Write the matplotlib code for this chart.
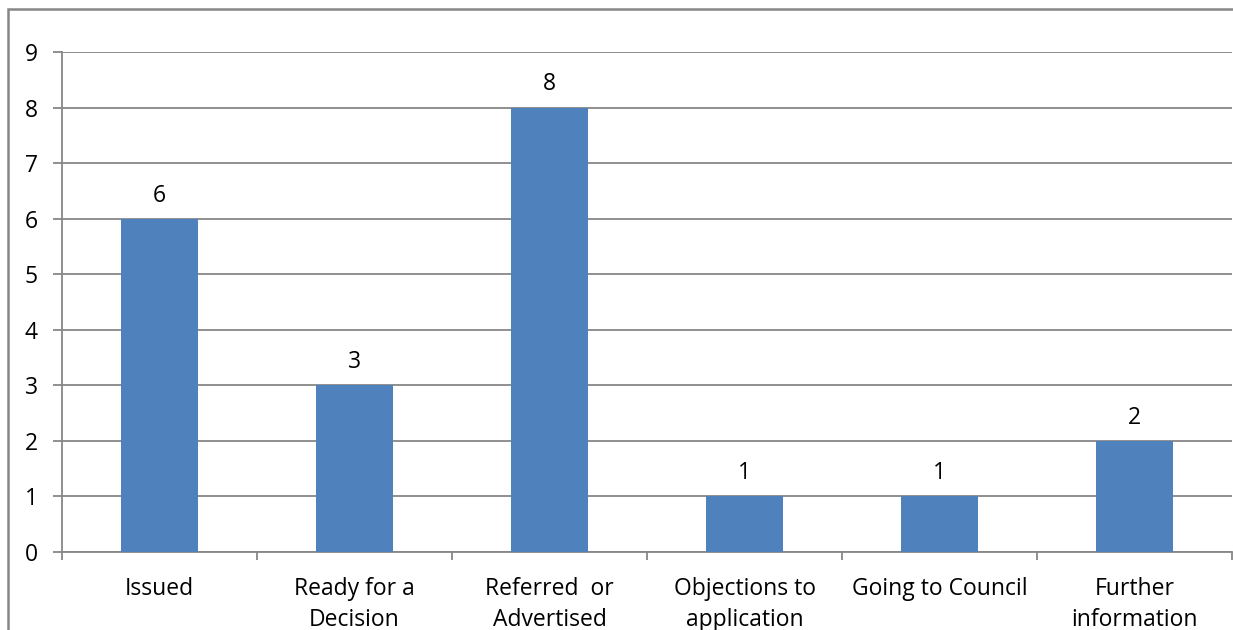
import matplotlib.pyplot as plt
from matplotlib.patches import Rectangle

categories = ['Issued', 'Ready for a\nDecision', 'Referred  or\nAdvertised',
              'Objections to\napplication', 'Going to Council', 'Further\ninformation']
counts = [6, 3, 8, 1, 1, 2]
yticks = list(range(0, 10))

plt.rcParams['font.family'] = ['Open Sans', 'DejaVu Sans']

fig = plt.figure(figsize=(12.33, 6.3), dpi=100)
ax = fig.add_axes([62 / 1233, 1 - 552 / 630, 1170 / 1233, 500 / 630])

grey = '#878787'
fs = 16.5
x = list(range(len(categories)))
bars = ax.bar(x, counts, width=0.395, color='#4F81BD', zorder=3)
for b, v in zip(bars, counts):
    ax.annotate(str(v), (b.get_x() + b.get_width() / 2, v), xytext=(0, 8),
                textcoords='offset points', ha='center', va='bottom', fontsize=fs)

ax.set_xlim(-0.5, len(categories) - 0.5)
ax.set_ylim(0, 9)
ax.set_yticks(yticks)
ax.yaxis.grid(True, color=grey, linewidth=1.3, zorder=0)

# ticks on category boundaries, labels centred
ax.set_xticks([i - 0.5 for i in range(len(categories) + 1)])
ax.set_xticklabels([])
ax.set_xticks(x, minor=True)
ax.set_xticklabels(categories, minor=True, fontsize=fs, linespacing=1.4)
ax.tick_params(axis='x', which='major', length=6, color=grey, width=1.3)
ax.tick_params(axis='x', which='minor', length=0, pad=18)
ax.tick_params(axis='y', length=6.5, color=grey, width=1.3, labelsize=fs, pad=11)

for s in ['top', 'right']:
    ax.spines[s].set_visible(False)
for s in ['left', 'bottom']:
    ax.spines[s].set_color(grey)
    ax.spines[s].set_linewidth(1.3)

# outer chart border (cut off at right and bottom)
fig.patches.append(Rectangle((8 / 1233, -0.1), 1.2, 1 - 9 / 630 + 0.1,
                             transform=fig.transFigure, fill=False,
                             edgecolor=grey, linewidth=1.8))

fig.savefig('out.png', dpi=100)
